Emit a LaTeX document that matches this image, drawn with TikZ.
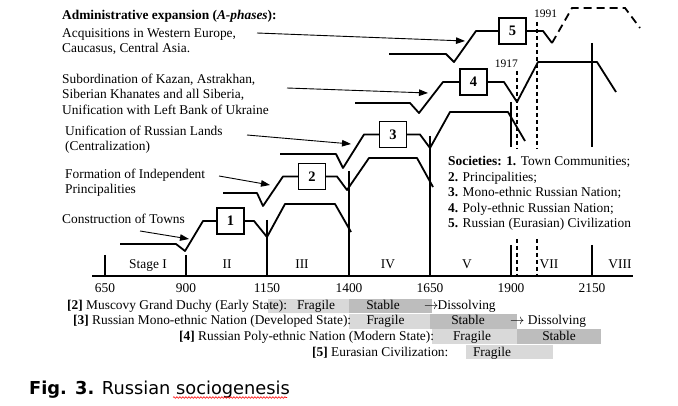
\documentclass[tikz,border=0pt]{standalone}
\usepackage{fontspec}
\setmainfont{Liberation Serif}
\newfontfamily\capfont{DejaVu Sans}
\usetikzlibrary{arrows.meta,decorations.pathmorphing}
\definecolor{barlight}{RGB}{217,217,217}
\definecolor{bardark}{RGB}{189,189,189}
\tikzset{
  txt/.style={font=\fontsize{13.4}{15.5}\selectfont, inner sep=0pt, anchor=base west},
  ctxt/.style={font=\fontsize{13.4}{15.5}\selectfont, inner sep=0pt, anchor=base},
  yeartxt/.style={font=\fontsize{11.5}{13}\selectfont, inner sep=0pt, anchor=base west},
  curve/.style={line width=1.8pt, line join=round},
  dcurve/.style={line width=1.8pt, dash pattern=on 8pt off 5pt},
  vline/.style={line width=1.1pt},
  dline/.style={line width=1.1pt, dash pattern=on 4pt off 3pt},
  numbox/.style={draw, line width=1.1pt, minimum width=27pt, minimum height=26pt, inner sep=0pt,
    font=\fontsize{14.5}{16}\selectfont\bfseries},
  arr/.style={line width=0.9pt, -{Triangle[length=9pt,width=6.5pt]}},
  fragbar/.style={fill=barlight, draw=none},
  stabbar/.style={fill=bardark, draw=none}
}
\begin{document}
\begin{tikzpicture}[x=1pt,y=-1pt]
\useasboundingbox (0,0) rectangle (678,406);

% ---- axis and stage boundaries
\coordinate (ax0) at (92,276);
\coordinate (ax1) at (633,276);
\draw[vline] (ax0) -- (ax1);
\foreach \n/\x/\top in {650/105/255, 900/186/255, 1150/267/220, 1400/349/171, 1650/430/136}{
  \coordinate (v\n t) at (\x,\top);
  \coordinate (v\n b) at (\x,276);
  \draw[vline] (v\n t) -- (v\n b);
}
\coordinate (v1900t) at (511,102); \coordinate (v1900m) at (511,147);
\coordinate (v1900n) at (511,245); \coordinate (v1900b) at (511,276);
\draw[vline] (v1900t) -- (v1900m); \draw[vline] (v1900n) -- (v1900b);
\coordinate (v2150t) at (592,43); \coordinate (v2150m) at (592,147);
\coordinate (v2150n) at (592,245); \coordinate (v2150b) at (592,276);
\draw[vline] (v2150t) -- (v2150m); \draw[vline] (v2150n) -- (v2150b);

% dashed year lines
\coordinate (d1917t) at (517,71); \coordinate (d1917b) at (517,276);
\coordinate (d1991t) at (537,22); \coordinate (d1991b) at (537,276);
\draw[dline] (d1917t) -- (d1917b);
\draw[dline] (d1991t) -- (d1991b);
\node[yeartxt, anchor=base east] (y1917) at (518,68) {1917};
\node[yeartxt] (y1991) at (534,17.5) {1991};

% ---- societies legend (white backing)
\fill[white] (442,149) rectangle (636,236);
\node[txt] (s1) at (448,166) {\textbf{Societies: 1.} Town Communities;};
\node[txt] (s2) at (448,181.5) {\textbf{2.} Principalities;};
\node[txt] (s3) at (448,197) {\textbf{3.} Mono-ethnic Russian Nation;};
\node[txt] (s4) at (448,212.5) {\textbf{4.} Poly-ethnic Russian Nation;};
\node[txt] (s5) at (448,228) {\textbf{5.} Russian (Eurasian) Civilization};

% ---- boxes
\node[numbox] (b1) at (230.5,221) {1};
\node[numbox] (b2) at (312,176.5) {2};
\node[numbox] (b3) at (393,134.5) {3};
\node[numbox] (b4) at (473.5,82) {4};
\node[numbox] (b5) at (512.5,31) {5};

% ---- curves
\draw[curve] (120,244) -- (176,244) -- (185,251) -- (203,221) -- (b1.west);
\draw[curve] (b1.east) -- (254,221) -- (267,237) -- (285,204) -- (335,204) -- (351,232);
\draw[curve] (223,193) -- (257,193) -- (263,206) -- (283,176.5) -- (b2.west);
\draw[curve] (b2.east) -- (337,176.5) -- (347,190) -- (369,158) -- (417,158) -- (433,187);
\draw[curve] (280,154) -- (336,154) -- (343,168) -- (364,134.5) -- (b3.west);
\draw[curve] (b3.east) -- (420,134.5) -- (430,148) -- (450,112) -- (508,112) -- (525,141);
\draw[curve] (355,103) -- (410,103) -- (419,113) -- (443,82) -- (b4.west);
\draw[curve] (b4.east) -- (504,82) -- (517,102) -- (538,62) -- (597,62) -- (616,92);
\draw[curve] (389,54) -- (446,54) -- (454,62) -- (476,31) -- (b5.west);
\coordinate (c5end) at (552,43);
\draw[curve] (b5.east) -- (543,31) -- (c5end);
\draw[dcurve] (c5end) -- (572,8) -- (625,8) -- (640,28);

% ---- labels at left
\node[txt] (title) at (62,19.5) {\textbf{Administrative expansion (\textit{A-phases}):}};
\node[txt] (l5a) at (62,37.5) {Acquisitions in Western Europe,};
\node[txt] (l5b) at (62,53) {Caucasus, Central Asia.};
\node[txt] (l4a) at (62,83.5) {Subordination of Kazan, Astrakhan,};
\node[txt] (l4b) at (62,99) {Siberian Khanates and all Siberia,};
\node[txt] (l4c) at (62,114.5) {Unification with Left Bank of Ukraine};
\node[txt] (l3a) at (65,136) {Unification of Russian Lands};
\node[txt] (l3b) at (65,150.5) {(Centralization)};
\node[txt] (l2a) at (65,179) {Formation of Independent};
\node[txt] (l2b) at (65,194) {Principalities};
\node[txt] (l1a) at (62,224) {Construction of Towns};

% ---- arrows
\coordinate (a1s) at (140,231); \coordinate (a1e) at (189,239);
\coordinate (a2s) at (219,176); \coordinate (a2e) at (270,185);
\coordinate (a3s) at (247,135); \coordinate (a3e) at (351,144);
\coordinate (a4s) at (287,88);  \coordinate (a4e) at (428,93);
\coordinate (a5s) at (257,33);  \coordinate (a5e) at (465,41);
\draw[arr] (a1s) -- (a1e);
\draw[arr] (a2s) -- (a2e);
\draw[arr] (a3s) -- (a3e);
\draw[arr] (a4s) -- (a4e);
\draw[arr] (a5s) -- (a5e);

% ---- stage labels and years
\node[ctxt] (st1) at (148,269) {Stage I};
\node[ctxt] (st2) at (227,269) {II};
\node[ctxt] (st3) at (302,269) {III};
\node[ctxt] (st4) at (388,269) {IV};
\node[ctxt] (st5) at (467,269) {V};
\node[ctxt] (st7) at (549,269) {VII};
\node[ctxt] (st8) at (620,269) {VIII};
\foreach \n/\x in {650/105, 900/186, 1150/267, 1400/349, 1650/430, 1900/511, 2150/592}{
  \node[ctxt] (yr\n) at (\x,293) {\n};
}

% ---- state bars
\path[fragbar] (268,299) rectangle (349,313.5);
\path[stabbar] (349,299) rectangle (432,313.5);
\path[fragbar] (349,314) rectangle (430,329);
\path[stabbar] (430,314) rectangle (517,329);
\path[fragbar] (432,329.5) rectangle (517,344);
\path[stabbar] (517,329.5) rectangle (601,344);
\path[fragbar] (466,345) rectangle (553,359);

\node[txt] (r2) at (67,309) {\textbf{[2]} Muscovy Grand Duchy (Early State):};
\node[ctxt] (r2f) at (316,309) {Fragile};
\node[ctxt] (r2s) at (383,309) {Stable};
\node[txt] (r2d) at (424,309) {$\rightarrow$\kern-1pt Dissolving};

\node[txt] (r3) at (73,325) {\textbf{[3]} Russian Mono-ethnic Nation (Developed State):};
\node[ctxt] (r3f) at (385.5,325) {Fragile};
\node[ctxt] (r3s) at (468,325) {Stable};
\node[txt] (r3d) at (510,325) {$\rightarrow$ Dissolving};

\node[txt] (r4) at (179,341) {\textbf{[4]} Russian Poly-ethnic Nation (Modern State):};
\node[ctxt] (r4f) at (472,341) {Fragile};
\node[ctxt] (r4s) at (559,341) {Stable};

\node[txt] (r5) at (312,356) {\textbf{[5]} Eurasian Civilization:};
\node[ctxt] (r5f) at (492,356) {Fragile};

% ---- caption
\node[anchor=base west, inner sep=0pt, font=\capfont\fontsize{17.8}{20}\selectfont] (cap) at (29,394)
  {\textbf{Fig. 3.} Russian sociogenesis};
\coordinate (sq0) at (173,397.5); \coordinate (sq1) at (287,397.5);
\draw[red, line width=0.6pt, decorate, decoration={snake, amplitude=0.8pt, segment length=3pt}] (sq0) -- (sq1);
\end{tikzpicture}
\end{document}
